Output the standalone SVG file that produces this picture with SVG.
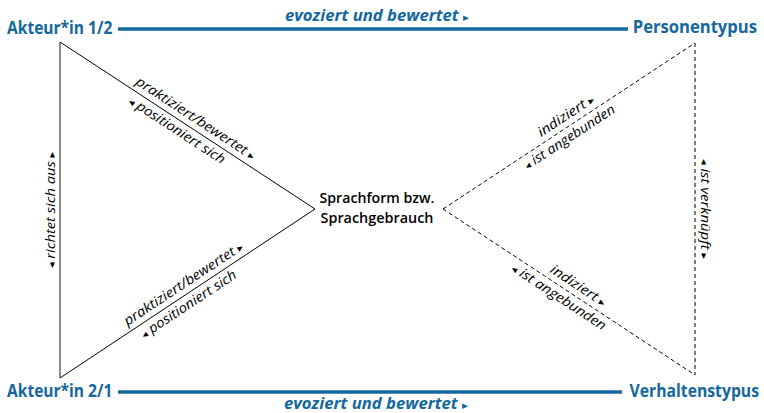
<svg xmlns="http://www.w3.org/2000/svg" width="764" height="413" viewBox="0 0 764 413">
<style>
.node{font-family:"Open Sans","Noto Sans",sans-serif;font-weight:700;fill:#14689e;font-size:17.5px}
.center{font-family:"Open Sans","Noto Sans",sans-serif;font-weight:600;fill:#000;font-size:14px}
.evo{font-family:"Open Sans","Noto Sans",sans-serif;font-weight:700;font-style:italic;fill:#14689e;font-size:15.5px}
.lbl{font-family:"Open Sans","Noto Sans",sans-serif;font-style:italic;fill:#000;font-size:13.5px}
.tri{font-family:"DejaVu Sans",sans-serif;font-style:normal;font-size:10px}
.tri2{font-family:"DejaVu Sans",sans-serif;font-style:normal;font-size:11px}
.blue{stroke:#14689e;stroke-width:3.5;fill:none}
.solid{stroke:#000;stroke-width:1;fill:none}
.gray{stroke:#6e6e6e;stroke-width:1.6;fill:none}
.dash{stroke:#000;stroke-width:1;fill:none;stroke-dasharray:4 3}
</style>
<rect width="764" height="413" fill="#fff"/>
<g id="connectors">
  <line class="blue" x1="118" y1="29" x2="628" y2="29"/>
  <line class="blue" x1="118" y1="392" x2="622" y2="392"/>
  <line class="gray" x1="60" y1="42" x2="60" y2="378"/>
  <line class="solid" x1="60" y1="42" x2="315" y2="209"/>
  <line class="solid" x1="60" y1="378" x2="315" y2="209"/>
  <line class="dash" x1="443" y1="209" x2="695" y2="43"/>
  <line class="dash" x1="443" y1="209" x2="695" y2="375"/>
  <line class="dash" x1="695" y1="43" x2="695" y2="375"/>
  <text class="evo" x="377" y="21" text-anchor="middle" textLength="184" lengthAdjust="spacingAndGlyphs">evoziert und bewertet <tspan class="tri2">▸</tspan></text>
  <text class="evo" x="376" y="409" text-anchor="middle" textLength="184" lengthAdjust="spacingAndGlyphs">evoziert und bewertet <tspan class="tri2">▸</tspan></text>
  <text class="lbl" transform="translate(190,127.1) rotate(33.22)" x="0" y="-6" text-anchor="middle" textLength="140" lengthAdjust="spacingAndGlyphs">praktiziert/bewertet <tspan class="tri">▸</tspan></text>
  <text class="lbl" transform="translate(182.3,122.1) rotate(33.22)" x="0" y="14" text-anchor="middle" textLength="112" lengthAdjust="spacingAndGlyphs"><tspan class="tri">◂</tspan> positioniert sich</text>
  <text class="lbl" transform="translate(189.2,292.4) rotate(-33.53)" x="0" y="-6" text-anchor="middle" textLength="140" lengthAdjust="spacingAndGlyphs">praktiziert/bewertet <tspan class="tri">▸</tspan></text>
  <text class="lbl" transform="translate(183.2,296.3) rotate(-33.53)" x="0" y="14" text-anchor="middle" textLength="112" lengthAdjust="spacingAndGlyphs"><tspan class="tri">◂</tspan> positioniert sich</text>
  <text class="lbl" transform="translate(55,210) rotate(-90)" x="0" y="0" text-anchor="middle" textLength="116" lengthAdjust="spacingAndGlyphs"><tspan class="tri">◂</tspan> richtet sich aus <tspan class="tri">▸</tspan></text>
  <text class="lbl" transform="translate(701,209) rotate(90)" x="0" y="0" text-anchor="middle" textLength="100" lengthAdjust="spacingAndGlyphs"><tspan class="tri">◂</tspan> ist verknüpft <tspan class="tri">▸</tspan></text>
  <text class="lbl" transform="translate(571.6,124.3) rotate(-33.38)" x="0" y="-6" text-anchor="middle" textLength="65" lengthAdjust="spacingAndGlyphs">indiziert <tspan class="tri">▸</tspan></text>
  <text class="lbl" transform="translate(564.1,129.2) rotate(-33.38)" x="0" y="14" text-anchor="middle" textLength="106" lengthAdjust="spacingAndGlyphs"><tspan class="tri">◂</tspan> ist angebunden</text>
  <text class="lbl" transform="translate(572.7,294.4) rotate(33.38)" x="0" y="-6" text-anchor="middle" textLength="64" lengthAdjust="spacingAndGlyphs">indiziert <tspan class="tri">▸</tspan></text>
  <text class="lbl" transform="translate(564.2,288.8) rotate(33.38)" x="0" y="14" text-anchor="middle" textLength="110" lengthAdjust="spacingAndGlyphs"><tspan class="tri">◂</tspan> ist angebunden</text>
</g>
<g id="akteur12"><text class="node" transform="translate(7,34) scale(0.89,1)" x="0" y="0">Akteur*in 1/2</text></g>
<g id="personentypus"><text class="node" transform="translate(757,33) scale(0.95,1)" x="0" y="0" text-anchor="end">Personentypus</text></g>
<g id="akteur21"><text class="node" transform="translate(7,397) scale(0.89,1)" x="0" y="0">Akteur*in 2/1</text></g>
<g id="verhaltenstypus"><text class="node" transform="translate(759,397) scale(0.9,1)" x="0" y="0" text-anchor="end">Verhaltenstypus</text></g>
<g id="sprachform">
  <text class="center" x="377" y="203" text-anchor="middle" textLength="115" lengthAdjust="spacingAndGlyphs">Sprachform bzw.</text>
  <text class="center" x="377" y="223" text-anchor="middle" textLength="113" lengthAdjust="spacingAndGlyphs">Sprachgebrauch</text>
</g>
</svg>
